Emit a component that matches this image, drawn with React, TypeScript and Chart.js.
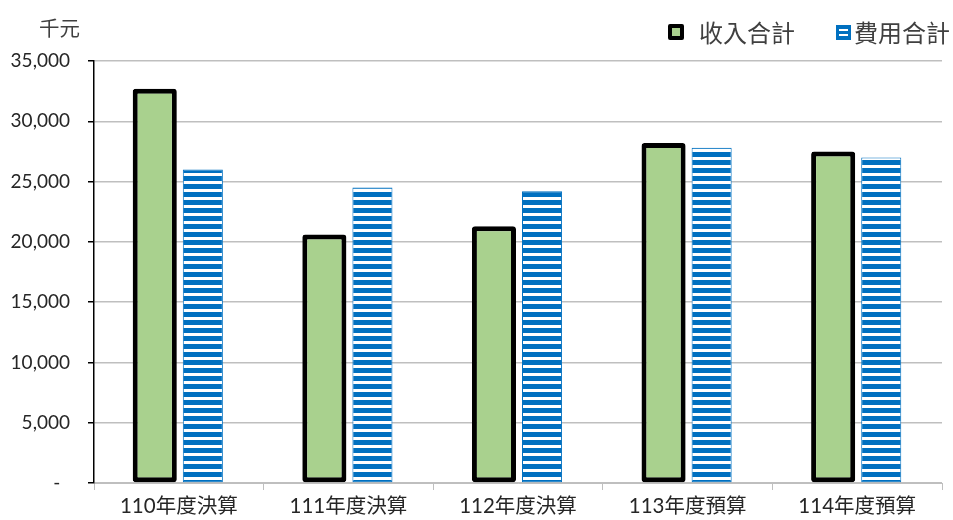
import React, { useEffect, useRef } from "react";
import { Chart, registerables } from "chart.js";

Chart.register(...registerables);

const categories = ["110年度決算", "111年度決算", "112年度決算", "113年度預算", "114年度預算"];
const incomeValues = [32700, 20600, 21300, 28200, 27500];
const expenseValues = [26000, 24500, 24200, 27800, 27000];
const incomeLabel = "收入合計";
const expenseLabel = "費用合計";
const unitLabel = "千元";
const yMax = 35000;
const yStep = 5000;

const BLUE = "#0070C0";
const GREEN = "#A9D18E";

function makeStripePattern(ctx: CanvasRenderingContext2D) {
  const c = document.createElement("canvas");
  c.width = 8;
  c.height = 8;
  const p = c.getContext("2d")!;
  p.fillStyle = BLUE;
  p.fillRect(0, 0, 8, 8);
  p.fillStyle = "#ffffff";
  p.fillRect(0, 5, 8, 3);
  return ctx.createPattern(c, "repeat");
}

export default function App() {
  const ref = useRef<HTMLCanvasElement>(null);

  useEffect(() => {
    document.body.style.margin = "0";
    const canvas = ref.current!;
    const ctx = canvas.getContext("2d")!;
    const pattern = makeStripePattern(ctx);
    const chart = new Chart(canvas, {
      type: "bar",
      data: {
        labels: categories,
        datasets: [
          {
            label: incomeLabel,
            data: incomeValues,
            backgroundColor: GREEN,
            borderColor: "#000000",
            borderWidth: 5,
            borderSkipped: false,
            borderRadius: 3,
            barPercentage: 0.917,
            categoryPercentage: 0.567,
          },
          {
            label: expenseLabel,
            data: expenseValues,
            backgroundColor: pattern as any,
            borderColor: BLUE,
            borderWidth: 1,
            borderSkipped: false,
            barPercentage: 0.833,
            categoryPercentage: 0.567,
          },
        ],
      },
      options: {
        animation: false,
        responsive: false,
        maintainAspectRatio: false,
        layout: { padding: { top: 61, right: 11, bottom: 0, left: 0 } },
        plugins: {
          legend: { display: false },
          tooltip: { enabled: false },
        },
        scales: {
          x: {
            afterFit: (s: any) => {
              s.height = 37;
            },
            grid: {
              offset: true,
              drawOnChartArea: false,
              drawTicks: true,
              tickLength: 7,
              color: "#BFBFBF",
            },
            border: { color: "#BFBFBF", width: 1 },
            ticks: {
              padding: 4,
              color: "#262626",
              font: { family: "Lato, 'Noto Sans CJK TC', sans-serif", size: 20.5 },
            },
          },
          y: {
            min: 0,
            max: yMax,
            afterFit: (s: any) => {
              s.width = 94;
            },
            grid: {
              color: "#BFBFBF",
              lineWidth: 1.5,
              tickColor: "#000000",
              tickLength: 6,
            },
            border: { color: "#000000", width: 1.5 },
            ticks: {
              stepSize: yStep,
              padding: 18,
              color: "#262626",
              font: { family: "Lato, sans-serif", size: 19 },
              callback: (v: any) => (Number(v) === 0 ? "-  " : Number(v).toLocaleString("en-US")),
            },
          },
        },
      },
    });
    return () => chart.destroy();
  }, []);

  const legendText: React.CSSProperties = {
    position: "absolute",
    top: 16,
    fontFamily: "'Noto Sans CJK TC', sans-serif",
    fontSize: 24,
    lineHeight: "32px",
    color: "#404040",
    whiteSpace: "nowrap",
  };

  return (
    <div style={{ position: "relative", width: 953, height: 520, background: "#fff" }}>
      <canvas ref={ref} width={953} height={520} style={{ display: "block" }} />
      <div
        style={{
          position: "absolute",
          left: 39,
          top: 13,
          fontFamily: "'Noto Sans CJK TC', sans-serif",
          fontSize: 20.5,
          lineHeight: "28px",
          color: "#404040",
        }}
      >
        {unitLabel}
      </div>
      <div
        style={{
          position: "absolute",
          left: 668,
          top: 24,
          width: 16,
          height: 16,
          boxSizing: "border-box",
          background: GREEN,
          border: "4px solid #000",
          borderRadius: 2,
        }}
      />
      <div style={{ ...legendText, left: 699 }}>{incomeLabel}</div>
      <div
        style={{
          position: "absolute",
          left: 836,
          top: 25,
          width: 15,
          height: 15,
          boxSizing: "border-box",
          background: BLUE,
        }}
      >
        <div style={{ position: "absolute", left: 3, top: 4, width: 9, height: 2, background: "#fff" }} />
        <div style={{ position: "absolute", left: 3, top: 9, width: 9, height: 2, background: "#fff" }} />
      </div>
      <div style={{ ...legendText, left: 854 }}>{expenseLabel}</div>
    </div>
  );
}
